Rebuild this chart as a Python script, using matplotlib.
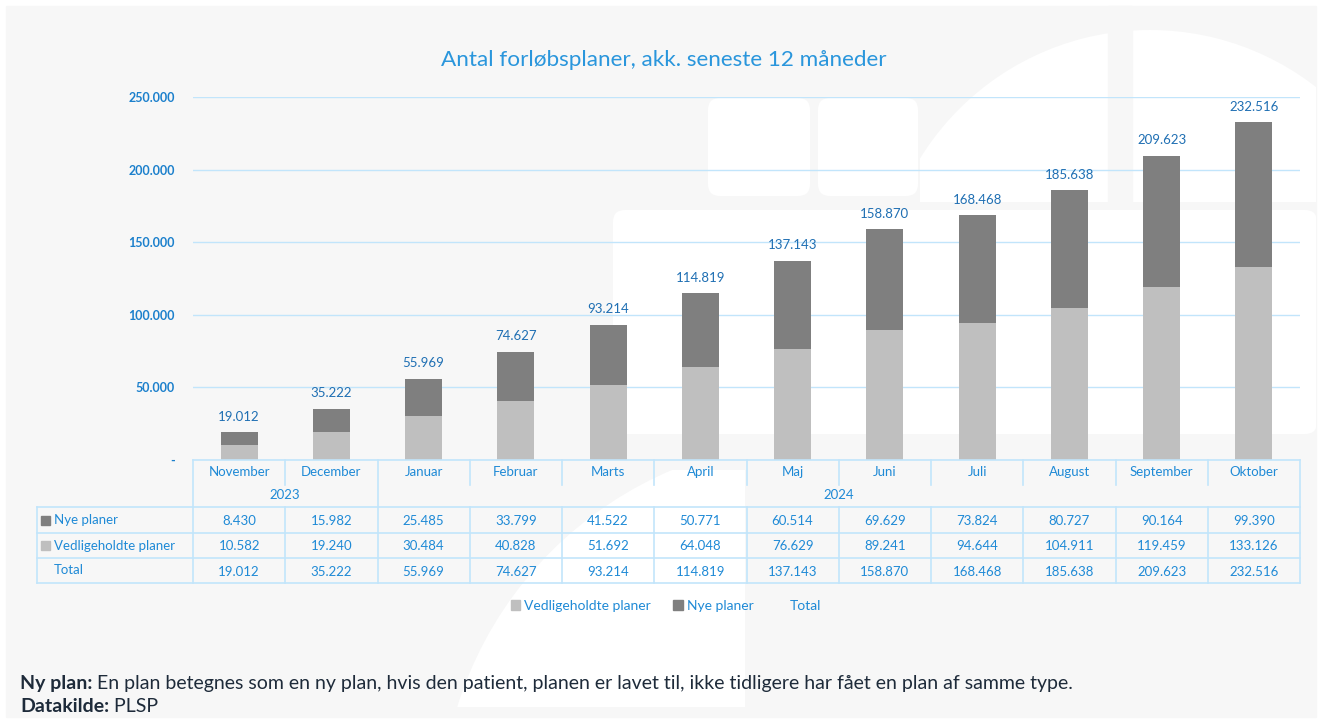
import numpy as np
import matplotlib.pyplot as plt
from matplotlib.patches import Rectangle, FancyBboxPatch, Circle, Patch

plt.rcParams['font.family'] = ['Lato', 'DejaVu Sans']

months = ['November', 'December', 'Januar', 'Februar', 'Marts', 'April',
          'Maj', 'Juni', 'Juli', 'August', 'September', 'Oktober']
years = ['2023', '2024']
year_spans = [2, 10]
nye_planer = [8430, 15982, 25485, 33799, 41522, 50771,
              60514, 69629, 73824, 80727, 90164, 99390]
vedligeholdte = [10582, 19240, 30484, 40828, 51692, 64048,
                 76629, 89241, 94644, 104911, 119459, 133126]
total = [19012, 35222, 55969, 74627, 93214, 114819,
         137143, 158870, 168468, 185638, 209623, 232516]

C_LIGHT = '#bfbfbf'
C_DARK = '#7f7f7f'
C_BLUE = '#1f8ad6'
C_LABEL = '#1f6fb3'
C_LINE = '#c2e5fb'
C_PANEL = '#f7f7f7'


def fmt(v):
    return f'{v:,}'.replace(',', '.')


W, H = 1322, 723
fig = plt.figure(figsize=(W / 100, H / 100), dpi=100, facecolor='white')

# background panel with faint logo shapes
bg = fig.add_axes([0, 0, 1, 1], zorder=0)
bg.set_xlim(0, W)
bg.set_ylim(H, 0)
bg.axis('off')
bg.add_patch(Rectangle((6, 6), 1310, 711, color=C_PANEL))
shapes = [
    (FancyBboxPatch((720, 110), 78, 74, boxstyle='round,pad=12'), (6, 6, 1310, 711)),
    (FancyBboxPatch((830, 110), 76, 74, boxstyle='round,pad=12'), (6, 6, 1310, 711)),
    (Circle((1150, 300), 270), (920, 6, 396, 196)),
    (FancyBboxPatch((625, 222), 680, 200, boxstyle='round,pad=12'), (6, 6, 1310, 711)),
    (Circle((820, 820), 380), (420, 470, 325, 237)),
]
for s, (cx0, cy0, cw, ch) in shapes:
    s.set_facecolor('white')
    s.set_edgecolor('none')
    bg.add_patch(s)
    clip = Rectangle((cx0, cy0), cw, ch, transform=bg.transData)
    s.set_clip_path(clip)
bg.add_patch(Rectangle((1108, 6), 24, 196, color=C_PANEL))

# stacked bars
L, R, Y0, YTOP = 193, 1300, 460, 97
ax = fig.add_axes([L / W, 1 - Y0 / H, (R - L) / W, (Y0 - YTOP) / H], zorder=1)
ax.patch.set_visible(False)
x = np.arange(len(months))
ax.bar(x, vedligeholdte, width=0.4, color=C_LIGHT, zorder=2)
ax.bar(x, nye_planer, bottom=vedligeholdte, width=0.4, color=C_DARK, zorder=2)
for i, t in enumerate(total):
    ax.annotate(fmt(t), (i, t), xytext=(0, 7), textcoords='offset points',
                ha='center', va='bottom', color=C_LABEL, fontsize=9.5)
ax.set_xlim(-0.5, len(months) - 0.5)
ax.set_ylim(0, 250000)
ticks = list(range(0, 250001, 50000))
ax.set_yticks(ticks)
ax.set_yticklabels(['-' if t == 0 else fmt(t) for t in ticks],
                   color='#1c80cc', fontsize=9, fontweight='bold')
ax.set_xticks([])
ax.tick_params(axis='y', length=0, pad=13)
ax.yaxis.grid(True, color=C_LINE, lw=1)
ax.set_axisbelow(True)
for sp in ax.spines.values():
    sp.set_visible(False)

# data table under the bars
ov = fig.add_axes([0, 0, 1, 1], zorder=2)
ov.patch.set_visible(False)
ov.set_xlim(0, W)
ov.set_ylim(H, 0)
ov.axis('off')

edges = np.linspace(L, R, len(months) + 1)
centers = (edges[:-1] + edges[1:]) / 2
TL = 37
rows_y = [507, 533, 558, 583]
lkw = dict(color=C_LINE, lw=1.2)

ov.plot([L, R], [Y0, Y0], **lkw)
for y in rows_y:
    ov.plot([TL, R], [y, y], **lkw)
ov.plot([TL, TL], [rows_y[0], rows_y[-1]], **lkw)
year_edges = np.cumsum([0] + year_spans)
for k, e in enumerate(edges):
    if k in year_edges:
        ov.plot([e, e], [Y0, rows_y[-1]], **lkw)
    else:
        ov.plot([e, e], [Y0, 485], **lkw)
        ov.plot([e, e], [rows_y[0], rows_y[-1]], **lkw)

tkw = dict(ha='center', va='center', color=C_BLUE, fontsize=9.5)
for cx, m in zip(centers, months):
    ov.text(cx, 472, m, **tkw)
for k, yr in enumerate(years):
    a, b = edges[year_edges[k]], edges[year_edges[k + 1]]
    ov.text((a + b) / 2, 495, yr, **tkw)

series = [('Nye planer', nye_planer, C_DARK),
          ('Vedligeholdte planer', vedligeholdte, C_LIGHT),
          ('Total', total, None)]
for r, (name, vals, col) in enumerate(series):
    cy = (rows_y[r] + rows_y[r + 1]) / 2
    if col:
        ov.add_patch(Rectangle((41, cy - 4.5), 9, 9, color=col))
    ov.text(54, cy, name, ha='left', va='center', color=C_BLUE, fontsize=9.5)
    for cx, v in zip(centers, vals):
        ov.text(cx, cy + 1, fmt(v), **tkw)

# legend
handles = [Patch(color=C_LIGHT), Patch(color=C_DARK),
           Patch(facecolor='none', edgecolor='none')]
fig.legend(handles, ['Vedligeholdte planer', 'Nye planer', 'Total'],
           loc='center', bbox_to_anchor=(666 / W, 1 - 606 / H), ncol=3,
           frameon=False, handlelength=0.7, handleheight=0.7,
           handletextpad=0.3, columnspacing=1.6, fontsize=10,
           labelcolor=C_BLUE)

# title
ov.text(664, 60, 'Antal forløbsplaner, akk. seneste 12 måneder',
        ha='center', va='center', color='#2a96dc', fontsize=16.2)

# footnote
renderer = fig.canvas.get_renderer()
notes = [('Ny plan:', ' En plan betegnes som en ny plan, hvis den patient, '
          'planen er lavet til, ikke tidligere har fået en plan af samme type.', 683),
         ('Datakilde:', ' PLSP', 706)]
for bold, rest, y in notes:
    t = ov.text(20, y, bold, ha='left', va='center', color='#1e2b3a',
                fontsize=14, fontweight='bold')
    bb = t.get_window_extent(renderer)
    ov.text(20 + bb.width, y, rest, ha='left', va='center', color='#1e2b3a',
            fontsize=14)

fig.savefig('out.png', dpi=100, facecolor='white')
